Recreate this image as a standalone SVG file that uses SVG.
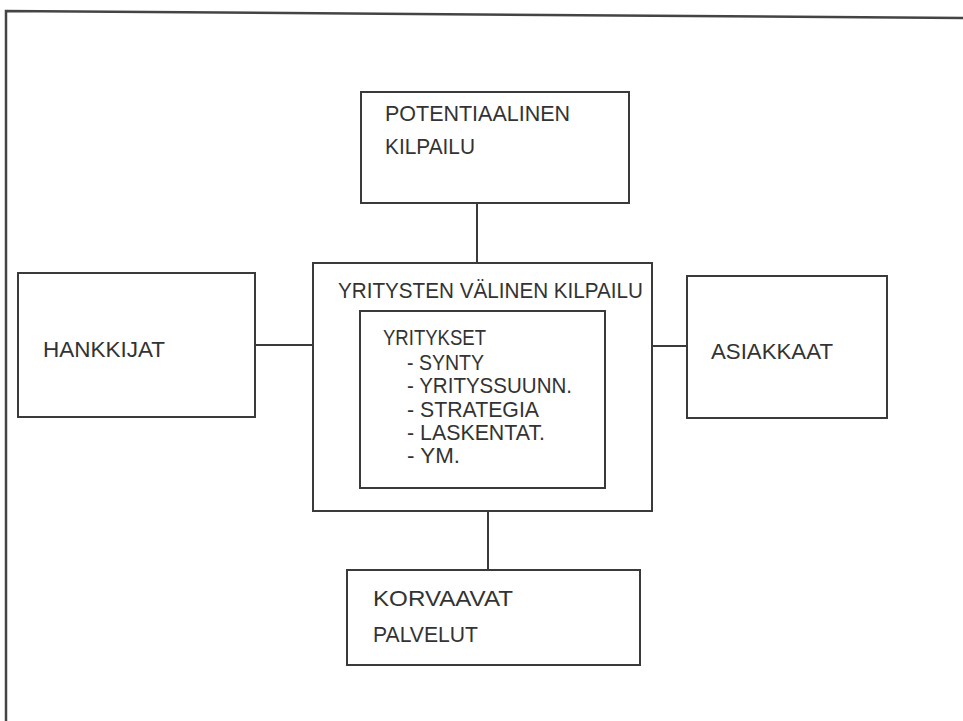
<svg xmlns="http://www.w3.org/2000/svg" width="963" height="721" viewBox="0 0 963 721">
  <style>
    .box { fill: none; stroke: #3a3a3a; stroke-width: 2; }
    .edge { fill: none; stroke: #3a3a3a; stroke-width: 2; }
    .frame { fill: none; stroke: #444; stroke-width: 2.5; }
    text { font-family: "Liberation Sans", Arial, sans-serif; font-size: 22.5px; fill: #333; }
  </style>
  <rect width="963" height="721" fill="#fff"/>

  <!-- page frame -->
  <polyline class="frame" points="6,721 6,11 963,18"/>

  <!-- connectors -->
  <g id="connectors">
    <line class="edge" x1="477" y1="203" x2="477" y2="263"/>
    <line class="edge" x1="255" y1="345" x2="313" y2="345"/>
    <line class="edge" x1="652" y1="346" x2="687" y2="346"/>
    <line class="edge" x1="488" y1="511" x2="488" y2="570"/>
  </g>

  <g id="potentiaalinen">
    <rect class="box" x="361" y="92" width="268" height="111"/>
    <text x="385" y="121" textLength="185" lengthAdjust="spacingAndGlyphs">POTENTIAALINEN</text>
    <text x="385" y="154" textLength="90" lengthAdjust="spacingAndGlyphs">KILPAILU</text>
  </g>

  <g id="hankkijat">
    <rect class="box" x="18" y="273" width="237" height="144"/>
    <text x="43" y="357" textLength="122" lengthAdjust="spacingAndGlyphs">HANKKIJAT</text>
  </g>

  <g id="kilpailu">
    <rect class="box" x="313" y="263" width="339" height="248"/>
    <text x="338" y="298" textLength="305" lengthAdjust="spacingAndGlyphs">YRITYSTEN VÄLINEN KILPAILU</text>
  </g>

  <g id="yritykset">
    <rect class="box" x="360" y="311" width="245" height="177"/>
    <text x="383" y="345" textLength="103" lengthAdjust="spacingAndGlyphs">YRITYKSET</text>
    <text x="407" y="370" textLength="77" lengthAdjust="spacingAndGlyphs">- SYNTY</text>
    <text x="407" y="393" textLength="165" lengthAdjust="spacingAndGlyphs">- YRITYSSUUNN.</text>
    <text x="407" y="417" textLength="132" lengthAdjust="spacingAndGlyphs">- STRATEGIA</text>
    <text x="407" y="440" textLength="138" lengthAdjust="spacingAndGlyphs">- LASKENTAT.</text>
    <text x="407" y="463" textLength="53" lengthAdjust="spacingAndGlyphs">- YM.</text>
  </g>

  <g id="asiakkaat">
    <rect class="box" x="687" y="276" width="200" height="142"/>
    <text x="711" y="359" textLength="122" lengthAdjust="spacingAndGlyphs">ASIAKKAAT</text>
  </g>

  <g id="korvaavat">
    <rect class="box" x="347" y="570" width="293" height="95"/>
    <text x="373" y="606" textLength="140" lengthAdjust="spacingAndGlyphs">KORVAAVAT</text>
    <text x="373" y="642" textLength="105" lengthAdjust="spacingAndGlyphs">PALVELUT</text>
  </g>
</svg>
